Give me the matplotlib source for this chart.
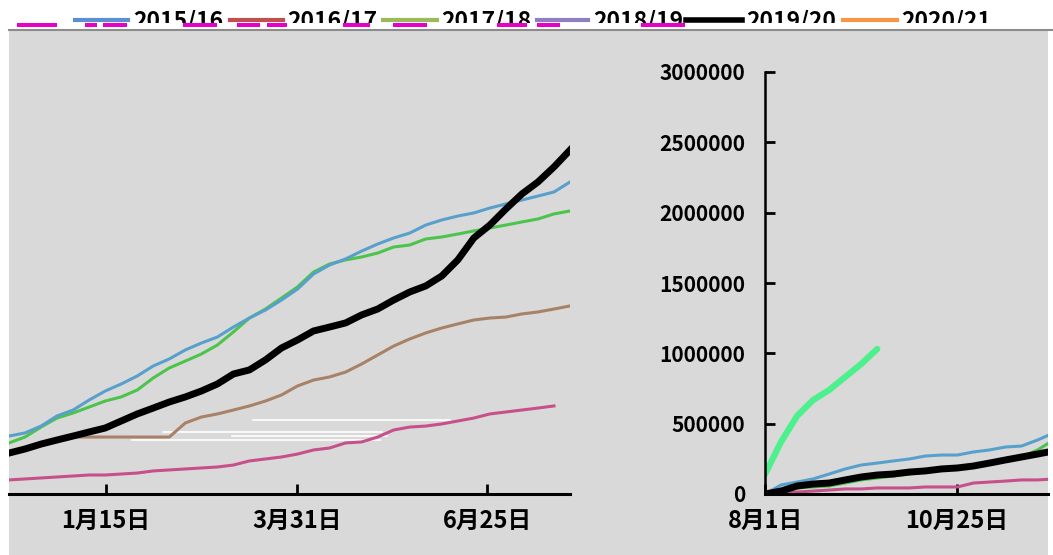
import matplotlib
matplotlib.use('Agg')
import matplotlib.pyplot as plt
from matplotlib.lines import Line2D
from matplotlib.patches import Rectangle

plt.rcParams['font.family'] = ['Noto Sans CJK SC', 'DejaVu Sans']
plt.rcParams['font.weight'] = 'bold'

# legend entries (colours as shown in the legend strip)
seasons = ['2015/16', '2016/17', '2017/18', '2018/19', '2019/20', '2020/21']
legend_colors = ['#5b8fcf', '#c0504d', '#9bbb59', '#8e80c0', '#000000', '#f79646']

# colours of the drawn lines
c_1516 = '#58a0cc'
c_1617 = '#c8508a'
c_1718 = '#4cc44c'
c_1819 = '#a88266'
c_1920 = '#000000'
c_2021 = '#4cf08c'

# left part: weekly cumulative values, Dec -> Jul
left_ticks = ['1月15日', '3月31日', '6月25日']
s1516_left = [412e3, 434e3, 483e3, 555e3, 597e3, 668e3, 732e3, 782e3, 839e3, 910e3,
              960e3, 1024e3, 1073e3, 1116e3, 1187e3, 1251e3, 1308e3, 1379e3, 1457e3, 1564e3,
              1628e3, 1671e3, 1727e3, 1777e3, 1820e3, 1855e3, 1912e3, 1948e3, 1976e3, 1998e3,
              2033e3, 2062e3, 2090e3, 2118e3, 2147e3, 2218e3]
s1617_left = [100e3, 107e3, 114e3, 121e3, 128e3, 135e3, 135e3, 142e3, 149e3, 164e3,
              171e3, 178e3, 185e3, 192e3, 206e3, 235e3, 249e3, 263e3, 284e3, 313e3,
              327e3, 363e3, 370e3, 405e3, 455e3, 476e3, 483e3, 498e3, 519e3, 540e3,
              569e3, 583e3, 597e3, 611e3, 626e3]
s1718_left = [363e3, 405e3, 476e3, 540e3, 576e3, 618e3, 661e3, 690e3, 739e3, 825e3,
              896e3, 945e3, 995e3, 1059e3, 1152e3, 1251e3, 1315e3, 1393e3, 1472e3, 1578e3,
              1635e3, 1664e3, 1685e3, 1713e3, 1756e3, 1770e3, 1813e3, 1827e3, 1848e3, 1870e3,
              1891e3, 1912e3, 1934e3, 1955e3, 1991e3, 2012e3]
s1819_left = [291e3, 320e3, 355e3, 384e3, 405e3, 405e3, 405e3, 405e3, 405e3, 405e3,
              405e3, 505e3, 547e3, 569e3, 597e3, 626e3, 661e3, 704e3, 768e3, 810e3,
              832e3, 867e3, 924e3, 988e3, 1052e3, 1102e3, 1145e3, 1180e3, 1209e3, 1237e3,
              1251e3, 1258e3, 1280e3, 1294e3, 1315e3, 1337e3]
s1920_left = [291e3, 320e3, 355e3, 384e3, 412e3, 441e3, 469e3, 519e3, 569e3, 611e3,
              654e3, 690e3, 732e3, 782e3, 853e3, 882e3, 953e3, 1038e3, 1095e3, 1159e3,
              1187e3, 1216e3, 1273e3, 1315e3, 1379e3, 1436e3, 1479e3, 1550e3, 1664e3, 1820e3,
              1912e3, 2026e3, 2133e3, 2218e3, 2325e3, 2445e3]

# right part: weekly cumulative values from 1 Aug
right_ticks = ['8月1日', '10月25日']
y_ticks = [0, 500000, 1000000, 1500000, 2000000, 2500000, 3000000]
s1516_right = [0, 64e3, 85e3, 107e3, 142e3, 178e3, 206e3, 220e3, 235e3, 249e3,
               270e3, 277e3, 277e3, 299e3, 313e3, 334e3, 341e3, 384e3, 434e3]
s1617_right = [0, 7e3, 14e3, 21e3, 28e3, 36e3, 36e3, 43e3, 43e3, 43e3,
               50e3, 50e3, 50e3, 78e3, 85e3, 92e3, 100e3, 100e3, 107e3]
s1718_right = [0, 14e3, 43e3, 50e3, 57e3, 78e3, 100e3, 114e3, 128e3, 142e3,
               156e3, 171e3, 178e3, 192e3, 213e3, 235e3, 263e3, 313e3, 384e3]
s1819_right = [0, 28e3, 64e3, 78e3, 85e3, 107e3, 128e3, 142e3, 149e3, 164e3,
               171e3, 185e3, 192e3, 206e3, 228e3, 249e3, 270e3, 292e3, 313e3]
s1920_right = [0, 21e3, 57e3, 71e3, 78e3, 100e3, 121e3, 135e3, 142e3, 156e3,
               164e3, 178e3, 185e3, 199e3, 220e3, 242e3, 263e3, 284e3, 306e3]
s2021_right = [140e3, 370e3, 555e3, 668e3, 739e3, 832e3, 924e3, 1031e3]

W, H = 1053, 555
BG = '#d9d9d9'
fig = plt.figure(figsize=(W / 100, H / 100), dpi=100, facecolor=BG)


def fx(px):
    return px / W


def fy(py):
    return 1 - py / H


def box(x0, y0, x1, y1):
    return [fx(x0), fy(y1), fx(x1) - fx(x0), fy(y0) - fy(y1)]


def rect(x0, y0, x1, y1, color, z):
    fig.patches.append(Rectangle((fx(x0), fy(y1)), fx(x1) - fx(x0), fy(y0) - fy(y1),
                                 transform=fig.transFigure, facecolor=color,
                                 edgecolor='none', zorder=z))


ax1 = fig.add_axes(box(9, 72, 570, 494))
ax2 = fig.add_axes(box(765, 72, 1048, 494))

thin = 2.2
for ax in (ax1, ax2):
    ax.set_facecolor('none')
    ax.set_ylim(0, 3000000)
    for s in ('top', 'right'):
        ax.spines[s].set_visible(False)
    ax.spines['bottom'].set_linewidth(2.2)
    ax.spines['left'].set_linewidth(1.8)
    ax.tick_params(direction='in', length=7, width=2, colors='black')
    ax.tick_params(axis='x', labelsize=17, pad=11)

# left panel
ax1.spines['left'].set_visible(False)
ax1.set_xlim(0, 35)
ax1.set_yticks([])
ax1.plot(range(len(s1617_left)), s1617_left, color=c_1617, lw=thin)
ax1.plot(range(len(s1819_left)), s1819_left, color=c_1819, lw=thin)
ax1.plot(range(len(s1718_left)), s1718_left, color=c_1718, lw=thin)
ax1.plot(range(len(s1516_left)), s1516_left, color=c_1516, lw=thin)
ax1.plot(range(len(s1920_left)), s1920_left, color=c_1920, lw=5)
ax1.set_xticks([6.05, 17.97, 29.82])
ax1.set_xticklabels(left_ticks)

# right panel
ax2.set_xlim(0, 17.65)
ax2.plot(range(len(s1617_right)), s1617_right, color=c_1617, lw=thin)
ax2.plot(range(len(s1718_right)), s1718_right, color=c_1718, lw=thin)
ax2.plot(range(len(s1819_right)), s1819_right, color=c_1819, lw=thin)
ax2.plot(range(len(s1516_right)), s1516_right, color=c_1516, lw=thin)
ax2.plot(range(len(s1920_right)), s1920_right, color=c_1920, lw=5)
ax2.plot(range(len(s2021_right)), s2021_right, color=c_2021, lw=4.5, solid_capstyle='round')
ax2.set_xticks([0, 11.98])
ax2.set_xticklabels(right_ticks)
ax2.set_yticks(y_ticks)
ax2.set_yticklabels([str(v) for v in y_ticks])
ax2.tick_params(axis='y', labelsize=15, pad=14)

# white margins
for x0, y0, x1, y1 in [(0, 0, 9, H), (1048, 0, W, H), (0, 0, W, 30)]:
    rect(x0, y0, x1, y1, 'white', -2)

# stray white streaks in the left panel
for y, x0, x1 in [(420, 253, 450), (432, 163, 382), (436, 232, 387), (440, 132, 380)]:
    fig.lines.append(Line2D([fx(x0), fx(x1)], [fy(y), fy(y)], transform=fig.transFigure,
                            color='white', lw=1.2, zorder=-1))

# legend strip (cut off at the bottom)
sample_x = [(75, 128), (230, 283), (383, 437), (537, 588), (686, 742), (843, 897)]
text_x = [133, 287, 441, 593, 746, 901]
for name, col, (a, b), tx in zip(seasons, legend_colors, sample_x, text_x):
    lw = 4 if col == '#000000' else 3
    fig.lines.append(Line2D([fx(a), fx(b)], [fy(20), fy(20)], transform=fig.transFigure,
                            color=col, lw=lw, zorder=3))
    fig.text(fx(tx), fy(27), name, fontsize=16.5, fontweight='bold', va='baseline',
             ha='left', zorder=3)

rect(0, 23, W, 29, 'white', 4)
rect(9, 30, 1048, 50, BG, 4)
rect(0, 30, 9, 50, 'white', 4)
rect(1048, 30, W, 50, 'white', 4)
for x0, x1 in [(17, 57), (85, 97), (103, 127), (183, 217), (237, 260), (267, 287),
               (343, 370), (393, 427), (497, 527), (537, 560), (641, 685)]:
    rect(x0, 23, x1, 27, '#e600c8', 5)
fig.lines.append(Line2D([fx(9), 1], [fy(30), fy(30)], transform=fig.transFigure,
                        color='#8c8c8c', lw=1.5, zorder=5))

fig.savefig('out.png', dpi=100, facecolor=fig.get_facecolor())
